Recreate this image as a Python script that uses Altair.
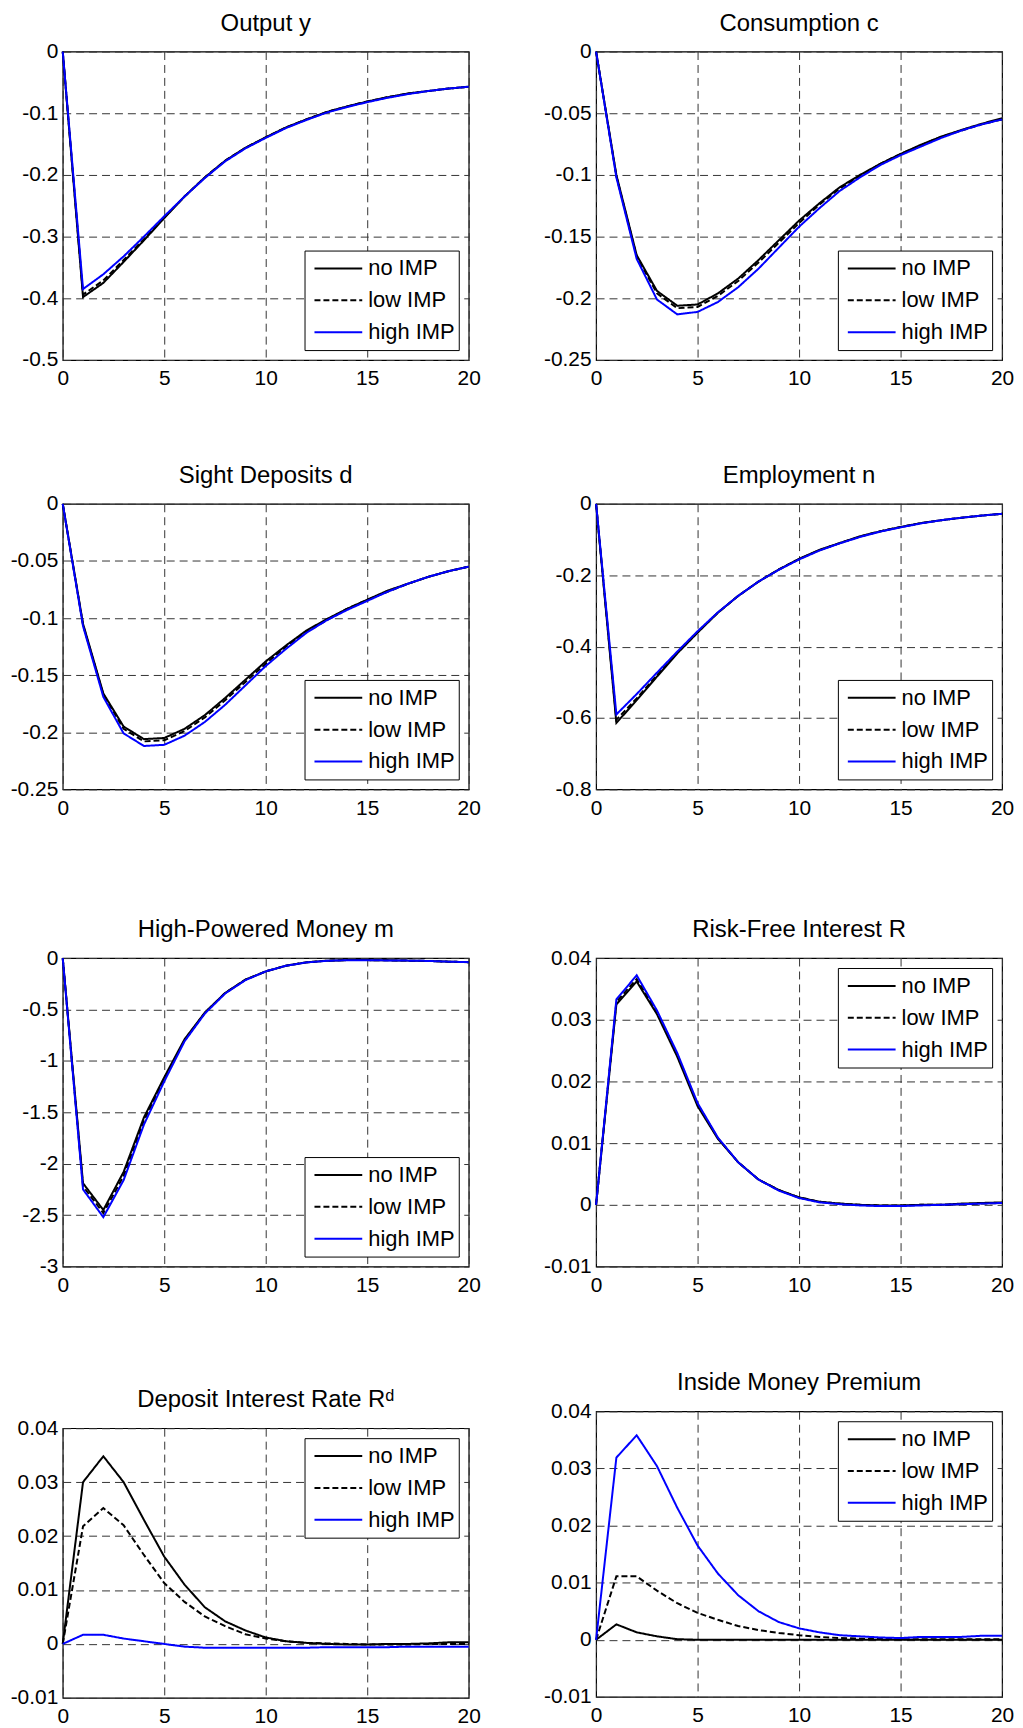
import altair as alt
import pandas as pd

t = list(range(21))
scenarios = ["no IMP", "low IMP", "high IMP"]

# Output y
y_no = [0, -0.398, -0.375, -0.341, -0.306, -0.270, -0.235, -0.204, -0.177, -0.156, -0.139, -0.123, -0.110, -0.098, -0.089, -0.081, -0.074, -0.068, -0.064, -0.060, -0.057]
y_low = [0, -0.394, -0.371, -0.338, -0.304, -0.269, -0.235, -0.204, -0.177, -0.156, -0.139, -0.123, -0.110, -0.098, -0.089, -0.081, -0.074, -0.068, -0.064, -0.060, -0.057]
y_high = [0, -0.385, -0.361, -0.332, -0.300, -0.267, -0.235, -0.205, -0.178, -0.157, -0.140, -0.124, -0.111, -0.099, -0.090, -0.082, -0.075, -0.069, -0.064, -0.060, -0.057]

# Consumption c
c_no = [0, -0.100, -0.165, -0.194, -0.206, -0.205, -0.196, -0.184, -0.169, -0.153, -0.137, -0.123, -0.110, -0.100, -0.091, -0.083, -0.0755, -0.069, -0.0635, -0.0585, -0.054]
c_low = [0, -0.101, -0.166, -0.196, -0.208, -0.207, -0.198, -0.186, -0.171, -0.155, -0.139, -0.124, -0.111, -0.101, -0.091, -0.083, -0.076, -0.069, -0.064, -0.059, -0.055]
c_high = [0, -0.102, -0.168, -0.201, -0.213, -0.211, -0.203, -0.191, -0.176, -0.159, -0.142, -0.127, -0.113, -0.102, -0.092, -0.084, -0.077, -0.070, -0.064, -0.059, -0.055]

# Sight deposits d
d_no = [0, -0.105, -0.166, -0.195, -0.206, -0.205, -0.197, -0.185, -0.170, -0.154, -0.138, -0.124, -0.111, -0.101, -0.092, -0.084, -0.076, -0.070, -0.064, -0.059, -0.055]
d_low = [0, -0.106, -0.167, -0.197, -0.208, -0.207, -0.199, -0.187, -0.172, -0.156, -0.140, -0.125, -0.112, -0.102, -0.092, -0.084, -0.077, -0.070, -0.064, -0.059, -0.055]
d_high = [0, -0.107, -0.169, -0.201, -0.212, -0.211, -0.203, -0.191, -0.176, -0.159, -0.142, -0.127, -0.113, -0.102, -0.093, -0.085, -0.077, -0.070, -0.064, -0.059, -0.055]

# Employment n
n_no = [0, -0.614, -0.550, -0.484, -0.419, -0.361, -0.305, -0.258, -0.218, -0.184, -0.154, -0.129, -0.110, -0.091, -0.077, -0.065, -0.054, -0.046, -0.039, -0.033, -0.028]
n_low = [0, -0.605, -0.545, -0.480, -0.417, -0.360, -0.305, -0.258, -0.218, -0.184, -0.155, -0.130, -0.110, -0.092, -0.077, -0.065, -0.054, -0.046, -0.039, -0.033, -0.028]
n_high = [0, -0.590, -0.533, -0.473, -0.414, -0.357, -0.304, -0.258, -0.218, -0.185, -0.156, -0.131, -0.111, -0.093, -0.078, -0.066, -0.055, -0.046, -0.039, -0.033, -0.028]

# High-powered money m
m_no = [0, -2.19, -2.45, -2.08, -1.55, -1.16, -0.79, -0.53, -0.34, -0.21, -0.13, -0.074, -0.042, -0.026, -0.020, -0.020, -0.022, -0.025, -0.028, -0.035, -0.040]
m_low = [0, -2.22, -2.48, -2.12, -1.58, -1.18, -0.80, -0.535, -0.34, -0.21, -0.13, -0.075, -0.042, -0.026, -0.020, -0.020, -0.022, -0.025, -0.028, -0.035, -0.040]
m_high = [0, -2.25, -2.52, -2.16, -1.62, -1.20, -0.81, -0.54, -0.345, -0.215, -0.13, -0.075, -0.043, -0.027, -0.021, -0.021, -0.023, -0.025, -0.028, -0.035, -0.040]

# Risk-free interest R
r_no = [0, 0.0325, 0.0362, 0.0309, 0.0240, 0.0160, 0.0107, 0.0069, 0.0041, 0.0024, 0.0012, 0.0005, 0.0002, 0.0000, -0.0001, -0.0001, 0.0000, 0.0000, 0.0002, 0.0003, 0.0004]
r_low = [0, 0.0329, 0.0366, 0.0312, 0.0243, 0.0163, 0.0108, 0.0069, 0.0041, 0.0024, 0.0012, 0.0005, 0.0002, 0.0000, -0.0001, -0.0001, 0.0000, 0.0000, 0.0001, 0.0002, 0.0003]
r_high = [0, 0.0333, 0.0372, 0.0315, 0.0246, 0.0165, 0.0109, 0.0069, 0.0041, 0.0023, 0.0011, 0.0004, 0.0001, -0.0001, -0.0002, -0.0002, -0.0001, 0.0000, 0.0001, 0.0002, 0.0003]

# Deposit interest rate Rd
rd_no = [0, 0.0300, 0.0348, 0.0300, 0.0230, 0.0162, 0.0110, 0.0068, 0.0042, 0.0025, 0.0012, 0.0005, 0.0002, 0.0000, -0.0001, -0.0001, 0.0000, 0.0000, 0.0001, 0.0003, 0.0003]
rd_low = [0, 0.0218, 0.0252, 0.0220, 0.0165, 0.0113, 0.0078, 0.0051, 0.0033, 0.0018, 0.0010, 0.0005, 0.0002, 0.0001, 0.0000, -0.0001, -0.0001, -0.0001, 0.0000, 0.0000, 0.0000]
rd_high = [0, 0.0017, 0.0017, 0.0010, 0.0005, 0.0000, -0.0005, -0.0007, -0.0007, -0.0007, -0.0007, -0.0007, -0.0007, -0.0006, -0.0006, -0.0006, -0.0006, -0.0005, -0.0005, -0.0005, -0.0005]

# Inside money premium
p_no = [0, 0.0027, 0.0013, 0.0006, 0.0001, 0, 0, 0, 0, 0, 0, 0, 0, 0, 0, 0, 0, 0, 0, 0, 0]
p_low = [0, 0.0111, 0.0111, 0.0086, 0.0064, 0.0047, 0.0035, 0.0024, 0.0017, 0.0012, 0.0008, 0.0005, 0.0003, 0.0002, 0.0002, 0.0001, 0.0001, 0.0001, 0.0001, 0.0001, 0.0001]
p_high = [0, 0.0319, 0.0358, 0.0304, 0.0231, 0.0165, 0.0116, 0.0078, 0.0050, 0.0031, 0.0020, 0.0013, 0.0008, 0.0006, 0.0004, 0.0003, 0.0005, 0.0005, 0.0005, 0.0007, 0.0007]

x_ticks = [0, 5, 10, 15, 20]

FONT = "Liberation Sans"
W = 408


def panel(title, series, ydom, yticks, height, legend_orient, xext):
    rows = []
    for name, vals in zip(scenarios, series):
        for ti, v in zip(t, vals):
            rows.append({"t": ti, "v": v, "s": name})
    df = pd.DataFrame(rows)
    leg = alt.Legend(orient=legend_orient, title=None)
    return alt.Chart(df, title=alt.Title(title)).mark_line(strokeWidth=2).encode(
        x=alt.X("t:Q", title=None,
                scale=alt.Scale(domain=[0, 20], nice=False, zero=False),
                axis=alt.Axis(values=x_ticks, minExtent=xext, maxExtent=xext)),
        y=alt.Y("v:Q", title=None,
                scale=alt.Scale(domain=ydom, nice=False, zero=False),
                axis=alt.Axis(values=yticks, labelExpr="'' + datum.value",
                              minExtent=54, maxExtent=54)),
        color=alt.Color("s:N", sort=scenarios,
                        scale=alt.Scale(domain=scenarios, range=["#000000", "#000000", "#0000ff"]),
                        legend=leg),
        strokeDash=alt.StrokeDash("s:N", sort=scenarios,
                                  scale=alt.Scale(domain=scenarios, range=[[1, 0], [6, 3], [1, 0]]),
                                  legend=leg),
    ).properties(width=W, height=height)


p1 = panel("Output y", [y_no, y_low, y_high], [-0.5, 0], [-0.5, -0.4, -0.3, -0.2, -0.1, 0], 310, "bottom-right", 29)
p2 = panel("Consumption c", [c_no, c_low, c_high], [-0.25, 0], [-0.25, -0.2, -0.15, -0.1, -0.05, 0], 310, "bottom-right", 29)
p3 = panel("Sight Deposits d", [d_no, d_low, d_high], [-0.25, 0], [-0.25, -0.2, -0.15, -0.1, -0.05, 0], 287, "bottom-right", 54)
p4 = panel("Employment n", [n_no, n_low, n_high], [-0.8, 0], [-0.8, -0.6, -0.4, -0.2, 0], 287, "bottom-right", 54)
p5 = panel("High-Powered Money m", [m_no, m_low, m_high], [-3, 0], [-3, -2.5, -2, -1.5, -1, -0.5, 0], 310, "bottom-right", 47)
p6 = panel("Risk-Free Interest R", [r_no, r_low, r_high], [-0.01, 0.04], [-0.01, 0, 0.01, 0.02, 0.03, 0.04], 310, "top-right", 30)
p7 = panel("Deposit Interest Rate Rᵈ", [rd_no, rd_low, rd_high], [-0.01, 0.04], [-0.01, 0, 0.01, 0.02, 0.03, 0.04], 271, "top-right", 29)
p8 = panel("Inside Money Premium", [p_no, p_low, p_high], [-0.01, 0.04], [-0.01, 0, 0.01, 0.02, 0.03, 0.04], 287, "top-right", 29)


def col(*charts):
    return alt.vconcat(*charts, spacing=73.5).resolve_scale(
        color="independent", strokeDash="independent"
    ).resolve_legend(color="independent", strokeDash="independent")


chart = alt.hconcat(col(p1, p3, p5, p7), col(p2, p4, p6, p8), spacing=60).resolve_scale(
    color="independent", strokeDash="independent"
).resolve_legend(color="independent", strokeDash="independent").properties(
    padding={"left": 0, "top": -1.5, "right": 0, "bottom": -5}
).configure_view(
    stroke="black", strokeWidth=1.2
).configure_axis(
    grid=True, gridColor="#333333", gridDash=[8, 5], gridWidth=1,
    domain=False, ticks=False,
    labelFont=FONT, labelFontSize=21, labelColor="black",
    labelFlush=False, labelOverlap=False
).configure_axisX(
    labelPadding=8
).configure_axisY(
    labelPadding=5
).configure_title(
    font=FONT, fontSize=24, fontWeight="normal", color="black", offset=5, anchor="middle"
).configure_legend(
    strokeColor="black", fillColor="white", padding=4, cornerRadius=0,
    labelFont=FONT, labelFontSize=22, labelColor="black",
    symbolType="stroke", symbolSize=2304, symbolStrokeWidth=2, symbolOffset=5,
    labelOffset=5, rowPadding=4, clipHeight=28, offset=10
)

chart.save("out.html", embed_options={"renderer": "svg", "actions": False})
